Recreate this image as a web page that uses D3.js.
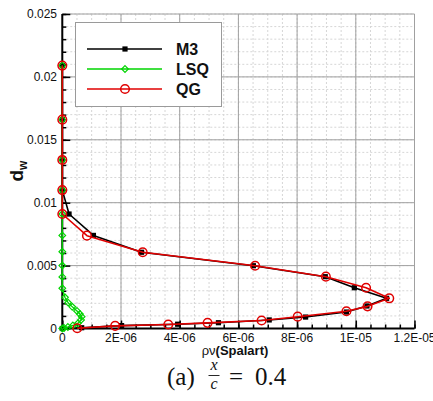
<!DOCTYPE html>
<html>
<head>
<meta charset="utf-8">
<script src="https://cdn.jsdelivr.net/npm/d3@7"></script>
<style>
  html, body { margin: 0; padding: 0; background: #fff; }
  svg { display: block; }
</style>
</head>
<body>
<div id="chart"></div>
<script>
// ---------- data ----------
const xTickValues = [0, 2e-6, 4e-6, 6e-6, 8e-6, 1e-5, 1.2e-5];
const xTickLabels = ["0", "2E-06", "4E-06", "6E-06", "8E-06", "1E-05", "1.2E-05"];
const yTickValues = [0, 0.005, 0.01, 0.015, 0.02, 0.025];
const yTickLabels = ["0", "0.005", "0.01", "0.015", "0.02", "0.025"];

const seriesNames = ["M3", "LSQ", "QG"];

// M3 (black squares)
const m3X = [0, 0, 0, 0, 0.23e-6, 1.06e-6, 2.70e-6, 6.51e-6, 8.96e-6, 9.95e-6, 11.05e-6,
             10.38e-6, 9.68e-6, 8.29e-6, 7.05e-6, 5.32e-6, 3.93e-6, 2.02e-6, 0.66e-6, 0];
const m3Y = [0.0209, 0.0166, 0.0134, 0.0110, 0.0091, 0.0074, 0.00606, 0.00499, 0.00412, 0.00324, 0.00240,
             0.00179, 0.00131, 0.00091, 0.00068, 0.00046, 0.00034, 0.00023, 0.00006, 0];

// LSQ (green diamonds)
const lsqX = [0, 0, 0, 0, 0, 0, 0, 0, 0, 0, 0.09e-6, 0.20e-6, 0.34e-6, 0.50e-6,
              0.60e-6, 0.66e-6, 0.64e-6, 0.53e-6, 0.36e-6, 0.19e-6, 0.06e-6, 0];
const lsqY = [0.0209, 0.0166, 0.0134, 0.0110, 0.0091, 0.0074, 0.0061, 0.0050, 0.0041, 0.0032,
              0.00248, 0.00205, 0.00172, 0.00140, 0.00115, 0.00094, 0.00068, 0.00041,
              0.00024, 0.00012, 0.00004, 0];

// QG (red circles)
const qgX = [0, 0, 0, 0, 0, 0.84e-6, 2.74e-6, 6.57e-6, 8.98e-6, 10.35e-6, 11.14e-6,
             10.40e-6, 9.68e-6, 8.02e-6, 6.79e-6, 4.95e-6, 3.61e-6, 1.80e-6, 0.51e-6];
const qgY = [0.0209, 0.0166, 0.0134, 0.0110, 0.0091, 0.00738, 0.00606, 0.00499, 0.00412, 0.00324, 0.00240,
             0.00176, 0.00137, 0.00094, 0.00064, 0.00045, 0.00032, 0.00021, 0.00002];

// ---------- layout ----------
const W = 433, H = 401;
const L = 62.3, R = 414.5, T = 14, B = 328.5;

const svg = d3.select("#chart").append("svg")
  .attr("width", W).attr("height", H)
  .attr("viewBox", `0 0 ${W} ${H}`);

const x = d3.scaleLinear().domain([0, 1.2e-5]).range([L, R]);
const y = d3.scaleLinear().domain([0, 0.025]).range([B, T]);

const font = "'Liberation Sans', Arial, Helvetica, sans-serif";

// minor grid
const xMinor = d3.range(0, 1.2e-5 + 1e-12, 0.5e-6);
const yMinor = d3.range(0, 0.025 + 1e-9, 0.001);
const grid = svg.append("g");
grid.selectAll("line.xm").data(xMinor).join("line")
  .attr("x1", d => x(d)).attr("x2", d => x(d)).attr("y1", T).attr("y2", B)
  .attr("stroke", "#d6d6d6").attr("stroke-width", 1).attr("stroke-dasharray", "2,2");
grid.selectAll("line.ym").data(yMinor).join("line")
  .attr("y1", d => y(d)).attr("y2", d => y(d)).attr("x1", L).attr("x2", R)
  .attr("stroke", "#d6d6d6").attr("stroke-width", 1).attr("stroke-dasharray", "2,2");
// major grid
grid.selectAll("line.xM").data(xTickValues).join("line")
  .attr("x1", d => x(d)).attr("x2", d => x(d)).attr("y1", T).attr("y2", B)
  .attr("stroke", "#a0a0a0").attr("stroke-width", 1);
grid.selectAll("line.yM").data(yTickValues).join("line")
  .attr("y1", d => y(d)).attr("y2", d => y(d)).attr("x1", L).attr("x2", R)
  .attr("stroke", "#a0a0a0").attr("stroke-width", 1);

// axes (ticks inward)
const xAxisMinor = d3.axisTop(x).tickValues(xMinor).tickSize(4).tickFormat("");
const xAxisMajor = d3.axisTop(x).tickValues(xTickValues).tickSize(8).tickFormat("");
const yAxisMinor = d3.axisRight(y).tickValues(yMinor).tickSize(4).tickFormat("");
const yAxisMajor = d3.axisRight(y).tickValues(yTickValues).tickSize(8).tickFormat("");

function styleAxis(g) {
  g.select(".domain").remove();
  g.selectAll(".tick line").attr("stroke", "#000").attr("stroke-width", 1.5);
}
svg.append("g").attr("transform", `translate(0,${B})`).call(xAxisMinor).call(styleAxis);
svg.append("g").attr("transform", `translate(0,${B})`).call(xAxisMajor).call(styleAxis);
svg.append("g").attr("transform", `translate(${L},0)`).call(yAxisMinor).call(styleAxis);
svg.append("g").attr("transform", `translate(${L},0)`).call(yAxisMajor).call(styleAxis);

// axis lines
svg.append("line").attr("x1", L).attr("x2", L).attr("y1", T).attr("y2", B + 1)
  .attr("stroke", "#000").attr("stroke-width", 2);
svg.append("line").attr("x1", L - 1).attr("x2", R).attr("y1", B).attr("y2", B)
  .attr("stroke", "#000").attr("stroke-width", 2);

// tick labels
svg.append("g").selectAll("text").data(xTickValues).join("text")
  .attr("x", d => x(d)).attr("y", 341.5)
  .attr("text-anchor", "middle")
  .attr("font-family", font).attr("font-size", 12).attr("fill", "#111")
  .text((d, i) => xTickLabels[i]);
svg.append("g").selectAll("text").data(yTickValues).join("text")
  .attr("x", 57).attr("y", d => y(d)).attr("dy", "0.36em")
  .attr("text-anchor", "end")
  .attr("font-family", font).attr("font-size", 12).attr("fill", "#111")
  .text((d, i) => yTickLabels[i]);

// axis titles
const xt = svg.append("text").attr("x", 235).attr("y", 355)
  .attr("text-anchor", "middle").attr("font-family", font).attr("fill", "#111");
xt.append("tspan").attr("font-size", 13).text("ρν");
xt.append("tspan").attr("font-size", 13).attr("font-weight", "bold").text("(Spalart)");

const yt = svg.append("text").attr("transform", "translate(23,171) rotate(-90)")
  .attr("text-anchor", "middle").attr("font-family", font).attr("font-weight", "bold").attr("fill", "#111");
yt.append("tspan").attr("font-size", 19).text("d");
yt.append("tspan").attr("font-size", 12).attr("dy", 4).text("w");

// ---------- series ----------
const clipId = "plotclip";
svg.append("clipPath").attr("id", clipId).append("rect")
  .attr("x", L - 6).attr("y", T).attr("width", R - L + 6).attr("height", B - T + 6);

const line = d3.line().x(d => x(d[0])).y(d => y(d[1]));
const plot = svg.append("g").attr("clip-path", `url(#${clipId})`);

const series = [
  { name: seriesNames[0], xs: m3X, ys: m3Y, color: "#000000", width: 1.6, marker: "square" },
  { name: seriesNames[1], xs: lsqX, ys: lsqY, color: "#00d400", width: 1.3, marker: "diamond" },
  { name: seriesNames[2], xs: qgX, ys: qgY, color: "#e00000", width: 1.6, marker: "circle" }
];

function drawMarker(g, type, cx, cy, color) {
  if (type === "square") {
    g.append("rect").attr("x", cx - 2.6).attr("y", cy - 2.6).attr("width", 5.2).attr("height", 5.2)
      .attr("fill", color);
  } else if (type === "diamond") {
    g.append("path").attr("d", d3.symbol().type(d3.symbolDiamond2).size(28)())
      .attr("transform", `translate(${cx},${cy})`)
      .attr("fill", "none").attr("stroke", color).attr("stroke-width", 1.2);
  } else {
    g.append("circle").attr("cx", cx).attr("cy", cy).attr("r", 4.3)
      .attr("fill", "none").attr("stroke", color).attr("stroke-width", 1.5);
  }
}

series.forEach(s => {
  const pts = s.xs.map((v, i) => [v, s.ys[i]]);
  plot.append("path").datum(pts).attr("d", line)
    .attr("fill", "none").attr("stroke", s.color).attr("stroke-width", s.width)
    .attr("stroke-linejoin", "round");
  const mg = plot.append("g");
  pts.forEach(p => drawMarker(mg, s.marker, x(p[0]), y(p[1]), s.color));
});

// ---------- legend ----------
const lg = svg.append("g");
lg.append("rect").attr("x", 75.5).attr("y", 22.5).attr("width", 146).attr("height", 84)
  .attr("fill", "#fff").attr("stroke", "#9a9a9a").attr("stroke-width", 1);
const legendRowsY = [49, 69, 89];
series.forEach((s, i) => {
  const ly = legendRowsY[i];
  lg.append("line").attr("x1", 87).attr("x2", 162).attr("y1", ly).attr("y2", ly)
    .attr("stroke", s.color).attr("stroke-width", s.width);
  drawMarker(lg, s.marker, 125, ly, s.color);
  lg.append("text").attr("x", 176).attr("y", ly).attr("dy", "0.36em")
    .attr("font-family", font).attr("font-weight", "bold").attr("font-size", 16)
    .attr("fill", "#111").text(s.name);
});

// ---------- caption ----------
const serif = "'Liberation Serif', 'DejaVu Serif', 'Times New Roman', serif";
svg.append("text").attr("x", 167).attr("y", 385)
  .attr("font-family", serif).attr("font-size", 25).attr("fill", "#111").text("(a)");
svg.append("text").attr("x", 214).attr("y", 370).attr("text-anchor", "middle")
  .attr("font-family", serif).attr("font-style", "italic").attr("font-size", 16).attr("fill", "#111").text("x");
svg.append("line").attr("x1", 208.5).attr("x2", 219.5).attr("y1", 375.5).attr("y2", 375.5)
  .attr("stroke", "#111").attr("stroke-width", 0.9);
svg.append("text").attr("x", 214).attr("y", 389).attr("text-anchor", "middle")
  .attr("font-family", serif).attr("font-style", "italic").attr("font-size", 16).attr("fill", "#111").text("c");
svg.append("text").attr("x", 229).attr("y", 385)
  .attr("font-family", serif).attr("font-size", 25).attr("fill", "#111").text("=");
svg.append("text").attr("x", 255).attr("y", 385)
  .attr("font-family", serif).attr("font-size", 25).attr("fill", "#111").text("0.4");
</script>
</body>
</html>
